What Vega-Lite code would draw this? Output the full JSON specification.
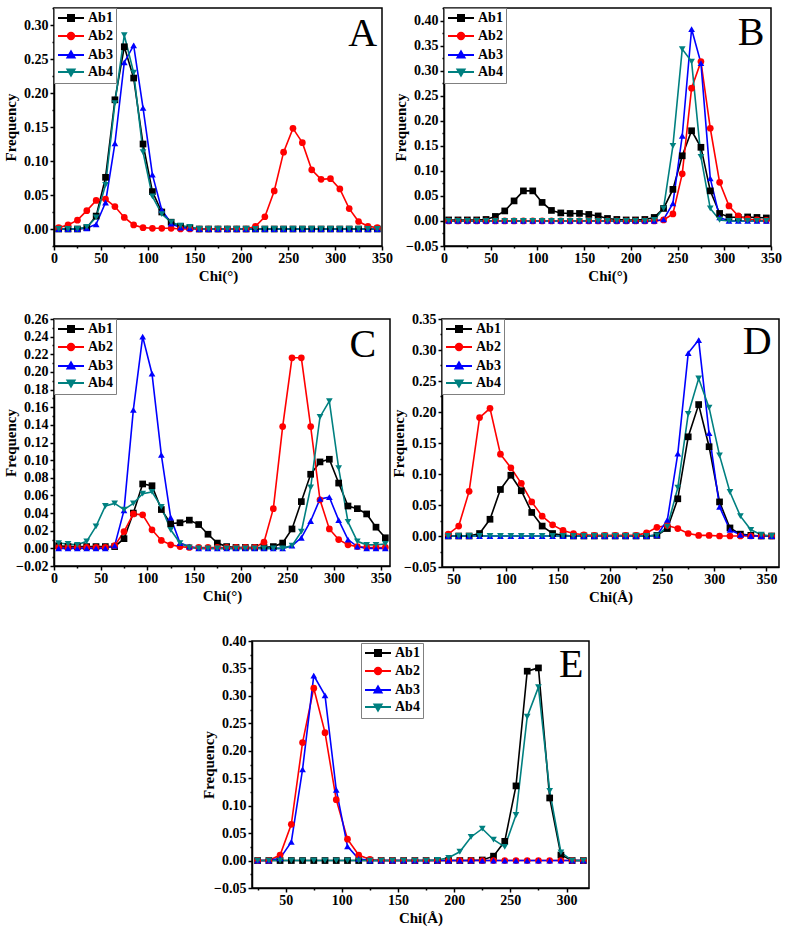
{
"$schema": "https://vega.github.io/schema/vega-lite/v6.json",
"padding": {"left": 2, "top": 0, "right": 2, "bottom": 2},
"background": "white",
"config": {
  "view": {"stroke": "black", "strokeWidth": 1.5},
  "axis": {"domainColor": "black", "domainWidth": 1.5, "tickColor": "black", "tickWidth": 1.5, "labelFont": "Liberation Serif", "labelFontWeight": "bold", "labelFontSize": 14, "labelColor": "black", "titleFont": "Liberation Serif", "titleFontWeight": "bold", "titleFontSize": 15, "titleColor": "black", "grid": false, "labelPadding": 2, "labelOverlap": false, "labelFlush": false},
  "axisY": {"titleX": -36, "titleBaseline": "bottom"},
  "axisX": {"titleY": 29, "titleBaseline": "middle", "labelPadding": 1},
  "legend": {"labelFont": "Liberation Serif", "labelFontWeight": "bold", "labelFontSize": 14, "labelColor": "black", "strokeColor": "#808080", "fillColor": "white", "padding": 3, "symbolSize": 100, "symbolOffset": 7, "labelOffset": 10, "rowPadding": 3, "cornerRadius": 0}
},
"datasets": {
  "dA": [
    {"chi":5,"Ab1":0,"Ab2":0.002,"Ab3":0,"Ab4":0},
    {"chi":15,"Ab1":0,"Ab2":0.006,"Ab3":0,"Ab4":0},
    {"chi":25,"Ab1":0,"Ab2":0.013,"Ab3":0,"Ab4":0},
    {"chi":35,"Ab1":0.002,"Ab2":0.027,"Ab3":0.001,"Ab4":0.003},
    {"chi":45,"Ab1":0.019,"Ab2":0.042,"Ab3":0.007,"Ab4":0.017},
    {"chi":55,"Ab1":0.076,"Ab2":0.044,"Ab3":0.039,"Ab4":0.065},
    {"chi":65,"Ab1":0.19,"Ab2":0.033,"Ab3":0.126,"Ab4":0.185},
    {"chi":75,"Ab1":0.268,"Ab2":0.017,"Ab3":0.245,"Ab4":0.285},
    {"chi":85,"Ab1":0.222,"Ab2":0.006,"Ab3":0.27,"Ab4":0.23},
    {"chi":95,"Ab1":0.125,"Ab2":0.002,"Ab3":0.178,"Ab4":0.113},
    {"chi":105,"Ab1":0.055,"Ab2":0.001,"Ab3":0.08,"Ab4":0.048},
    {"chi":115,"Ab1":0.025,"Ab2":0.001,"Ab3":0.028,"Ab4":0.022},
    {"chi":125,"Ab1":0.01,"Ab2":0.001,"Ab3":0.008,"Ab4":0.01},
    {"chi":135,"Ab1":0.004,"Ab2":0,"Ab3":0.002,"Ab4":0.005},
    {"chi":145,"Ab1":0.002,"Ab2":0,"Ab3":0.001,"Ab4":0.003},
    {"chi":155,"Ab1":0,"Ab2":0,"Ab3":0,"Ab4":0},
    {"chi":165,"Ab1":0,"Ab2":0,"Ab3":0,"Ab4":0},
    {"chi":175,"Ab1":0,"Ab2":0,"Ab3":0,"Ab4":0},
    {"chi":185,"Ab1":0,"Ab2":0,"Ab3":0,"Ab4":0},
    {"chi":195,"Ab1":0,"Ab2":0,"Ab3":0,"Ab4":0},
    {"chi":205,"Ab1":0,"Ab2":0,"Ab3":0,"Ab4":0},
    {"chi":215,"Ab1":0,"Ab2":0.004,"Ab3":0,"Ab4":0},
    {"chi":225,"Ab1":0,"Ab2":0.018,"Ab3":0,"Ab4":0},
    {"chi":235,"Ab1":0,"Ab2":0.056,"Ab3":0,"Ab4":0},
    {"chi":245,"Ab1":0,"Ab2":0.113,"Ab3":0,"Ab4":0},
    {"chi":255,"Ab1":0,"Ab2":0.148,"Ab3":0,"Ab4":0},
    {"chi":265,"Ab1":0,"Ab2":0.127,"Ab3":0,"Ab4":0},
    {"chi":275,"Ab1":0,"Ab2":0.087,"Ab3":0,"Ab4":0},
    {"chi":285,"Ab1":0,"Ab2":0.073,"Ab3":0,"Ab4":0},
    {"chi":295,"Ab1":0,"Ab2":0.074,"Ab3":0,"Ab4":0},
    {"chi":305,"Ab1":0,"Ab2":0.059,"Ab3":0,"Ab4":0},
    {"chi":315,"Ab1":0,"Ab2":0.03,"Ab3":0,"Ab4":0},
    {"chi":325,"Ab1":0,"Ab2":0.011,"Ab3":0,"Ab4":0},
    {"chi":335,"Ab1":0,"Ab2":0.004,"Ab3":0,"Ab4":0},
    {"chi":345,"Ab1":0,"Ab2":0.002,"Ab3":0,"Ab4":0}
  ],
  "dB": [
    {"chi":5,"Ab1":0.002,"Ab2":0,"Ab3":0,"Ab4":0},
    {"chi":15,"Ab1":0.002,"Ab2":0,"Ab3":0,"Ab4":0},
    {"chi":25,"Ab1":0.002,"Ab2":0,"Ab3":0,"Ab4":0},
    {"chi":35,"Ab1":0.002,"Ab2":0,"Ab3":0,"Ab4":0},
    {"chi":45,"Ab1":0.003,"Ab2":0,"Ab3":0,"Ab4":0},
    {"chi":55,"Ab1":0.009,"Ab2":0,"Ab3":0,"Ab4":0},
    {"chi":65,"Ab1":0.02,"Ab2":0,"Ab3":0,"Ab4":0},
    {"chi":75,"Ab1":0.04,"Ab2":0,"Ab3":0,"Ab4":0},
    {"chi":85,"Ab1":0.06,"Ab2":0,"Ab3":0,"Ab4":0},
    {"chi":95,"Ab1":0.06,"Ab2":0,"Ab3":0,"Ab4":0},
    {"chi":105,"Ab1":0.037,"Ab2":0,"Ab3":0,"Ab4":0},
    {"chi":115,"Ab1":0.021,"Ab2":0,"Ab3":0,"Ab4":0},
    {"chi":125,"Ab1":0.016,"Ab2":0,"Ab3":0,"Ab4":0},
    {"chi":135,"Ab1":0.015,"Ab2":0,"Ab3":0,"Ab4":0},
    {"chi":145,"Ab1":0.015,"Ab2":0,"Ab3":0,"Ab4":0},
    {"chi":155,"Ab1":0.013,"Ab2":0,"Ab3":0,"Ab4":0},
    {"chi":165,"Ab1":0.01,"Ab2":0,"Ab3":0,"Ab4":0},
    {"chi":175,"Ab1":0.005,"Ab2":0,"Ab3":0,"Ab4":0},
    {"chi":185,"Ab1":0.003,"Ab2":0,"Ab3":0,"Ab4":0},
    {"chi":195,"Ab1":0.002,"Ab2":0,"Ab3":0,"Ab4":0},
    {"chi":205,"Ab1":0.002,"Ab2":0,"Ab3":0,"Ab4":0},
    {"chi":215,"Ab1":0.003,"Ab2":0,"Ab3":0,"Ab4":0},
    {"chi":225,"Ab1":0.007,"Ab2":0,"Ab3":0,"Ab4":0.002},
    {"chi":235,"Ab1":0.025,"Ab2":0.002,"Ab3":0.003,"Ab4":0.025},
    {"chi":245,"Ab1":0.063,"Ab2":0.014,"Ab3":0.035,"Ab4":0.15},
    {"chi":255,"Ab1":0.13,"Ab2":0.094,"Ab3":0.17,"Ab4":0.343},
    {"chi":265,"Ab1":0.18,"Ab2":0.265,"Ab3":0.383,"Ab4":0.318},
    {"chi":275,"Ab1":0.147,"Ab2":0.318,"Ab3":0.315,"Ab4":0.128},
    {"chi":285,"Ab1":0.06,"Ab2":0.185,"Ab3":0.085,"Ab4":0.025},
    {"chi":295,"Ab1":0.015,"Ab2":0.077,"Ab3":0.007,"Ab4":0.002},
    {"chi":305,"Ab1":0.008,"Ab2":0.03,"Ab3":0,"Ab4":0},
    {"chi":315,"Ab1":0.007,"Ab2":0.01,"Ab3":0,"Ab4":0},
    {"chi":325,"Ab1":0.008,"Ab2":0.004,"Ab3":0,"Ab4":0},
    {"chi":335,"Ab1":0.007,"Ab2":0.002,"Ab3":0,"Ab4":0},
    {"chi":345,"Ab1":0.006,"Ab2":0.001,"Ab3":0,"Ab4":0}
  ],
  "dC": [
    {"chi":5,"Ab1":0.003,"Ab2":0.001,"Ab3":0,"Ab4":0.006},
    {"chi":15,"Ab1":0.002,"Ab2":0.001,"Ab3":0,"Ab4":0.005},
    {"chi":25,"Ab1":0.002,"Ab2":0.001,"Ab3":0,"Ab4":0.004},
    {"chi":35,"Ab1":0.002,"Ab2":0.001,"Ab3":0,"Ab4":0.008},
    {"chi":45,"Ab1":0.002,"Ab2":0.001,"Ab3":0,"Ab4":0.025},
    {"chi":55,"Ab1":0.002,"Ab2":0.001,"Ab3":0,"Ab4":0.048},
    {"chi":65,"Ab1":0.002,"Ab2":0.003,"Ab3":0.003,"Ab4":0.051},
    {"chi":75,"Ab1":0.011,"Ab2":0.019,"Ab3":0.043,"Ab4":0.044},
    {"chi":85,"Ab1":0.04,"Ab2":0.039,"Ab3":0.157,"Ab4":0.051},
    {"chi":95,"Ab1":0.073,"Ab2":0.038,"Ab3":0.24,"Ab4":0.062},
    {"chi":105,"Ab1":0.071,"Ab2":0.021,"Ab3":0.198,"Ab4":0.064},
    {"chi":115,"Ab1":0.044,"Ab2":0.009,"Ab3":0.106,"Ab4":0.047},
    {"chi":125,"Ab1":0.028,"Ab2":0.004,"Ab3":0.035,"Ab4":0.021},
    {"chi":135,"Ab1":0.029,"Ab2":0.002,"Ab3":0.006,"Ab4":0.006},
    {"chi":145,"Ab1":0.032,"Ab2":0.001,"Ab3":0.002,"Ab4":0.001},
    {"chi":155,"Ab1":0.027,"Ab2":0.001,"Ab3":0,"Ab4":0},
    {"chi":165,"Ab1":0.016,"Ab2":0.001,"Ab3":0,"Ab4":0},
    {"chi":175,"Ab1":0.006,"Ab2":0.001,"Ab3":0,"Ab4":0},
    {"chi":185,"Ab1":0.002,"Ab2":0.001,"Ab3":0,"Ab4":0},
    {"chi":195,"Ab1":0.001,"Ab2":0.001,"Ab3":0,"Ab4":0},
    {"chi":205,"Ab1":0.001,"Ab2":0.001,"Ab3":0,"Ab4":0},
    {"chi":215,"Ab1":0.001,"Ab2":0.001,"Ab3":0,"Ab4":0},
    {"chi":225,"Ab1":0.001,"Ab2":0.007,"Ab3":0,"Ab4":0},
    {"chi":235,"Ab1":0.002,"Ab2":0.045,"Ab3":0,"Ab4":0},
    {"chi":245,"Ab1":0.006,"Ab2":0.138,"Ab3":0,"Ab4":0},
    {"chi":255,"Ab1":0.022,"Ab2":0.216,"Ab3":0.003,"Ab4":0.003},
    {"chi":265,"Ab1":0.053,"Ab2":0.216,"Ab3":0.012,"Ab4":0.019},
    {"chi":275,"Ab1":0.084,"Ab2":0.138,"Ab3":0.031,"Ab4":0.069},
    {"chi":285,"Ab1":0.098,"Ab2":0.055,"Ab3":0.056,"Ab4":0.149},
    {"chi":295,"Ab1":0.101,"Ab2":0.022,"Ab3":0.058,"Ab4":0.167},
    {"chi":305,"Ab1":0.074,"Ab2":0.01,"Ab3":0.032,"Ab4":0.091},
    {"chi":315,"Ab1":0.048,"Ab2":0.004,"Ab3":0.01,"Ab4":0.03},
    {"chi":325,"Ab1":0.045,"Ab2":0.002,"Ab3":0.002,"Ab4":0.008},
    {"chi":335,"Ab1":0.039,"Ab2":0.001,"Ab3":0,"Ab4":0.004},
    {"chi":345,"Ab1":0.024,"Ab2":0.001,"Ab3":0,"Ab4":0.004},
    {"chi":355,"Ab1":0.012,"Ab2":0.001,"Ab3":0,"Ab4":0.005}
  ],
  "dD": [
    {"chi":45,"Ab1":0,"Ab2":0.003,"Ab3":0,"Ab4":0},
    {"chi":55,"Ab1":0,"Ab2":0.016,"Ab3":0,"Ab4":0},
    {"chi":65,"Ab1":0,"Ab2":0.072,"Ab3":0,"Ab4":0},
    {"chi":75,"Ab1":0.004,"Ab2":0.191,"Ab3":0,"Ab4":0},
    {"chi":85,"Ab1":0.027,"Ab2":0.206,"Ab3":0,"Ab4":0},
    {"chi":95,"Ab1":0.075,"Ab2":0.132,"Ab3":0,"Ab4":0},
    {"chi":105,"Ab1":0.098,"Ab2":0.11,"Ab3":0,"Ab4":0},
    {"chi":115,"Ab1":0.073,"Ab2":0.085,"Ab3":0,"Ab4":0},
    {"chi":125,"Ab1":0.038,"Ab2":0.055,"Ab3":0,"Ab4":0},
    {"chi":135,"Ab1":0.016,"Ab2":0.032,"Ab3":0,"Ab4":0},
    {"chi":145,"Ab1":0.004,"Ab2":0.018,"Ab3":0,"Ab4":0},
    {"chi":155,"Ab1":0.001,"Ab2":0.009,"Ab3":0,"Ab4":0},
    {"chi":165,"Ab1":0,"Ab2":0.004,"Ab3":0,"Ab4":0},
    {"chi":175,"Ab1":0,"Ab2":0.002,"Ab3":0,"Ab4":0},
    {"chi":185,"Ab1":0,"Ab2":0.001,"Ab3":0,"Ab4":0},
    {"chi":195,"Ab1":0,"Ab2":0.001,"Ab3":0,"Ab4":0},
    {"chi":205,"Ab1":0,"Ab2":0.001,"Ab3":0,"Ab4":0},
    {"chi":215,"Ab1":0,"Ab2":0.001,"Ab3":0,"Ab4":0},
    {"chi":225,"Ab1":0,"Ab2":0.001,"Ab3":0,"Ab4":0},
    {"chi":235,"Ab1":0,"Ab2":0.005,"Ab3":0,"Ab4":0},
    {"chi":245,"Ab1":0.001,"Ab2":0.014,"Ab3":0.001,"Ab4":0.001},
    {"chi":255,"Ab1":0.012,"Ab2":0.017,"Ab3":0.026,"Ab4":0.015},
    {"chi":265,"Ab1":0.06,"Ab2":0.012,"Ab3":0.133,"Ab4":0.078},
    {"chi":275,"Ab1":0.16,"Ab2":0.004,"Ab3":0.295,"Ab4":0.197},
    {"chi":285,"Ab1":0.212,"Ab2":0.001,"Ab3":0.316,"Ab4":0.254},
    {"chi":295,"Ab1":0.144,"Ab2":0.001,"Ab3":0.166,"Ab4":0.207},
    {"chi":305,"Ab1":0.055,"Ab2":0,"Ab3":0.047,"Ab4":0.13},
    {"chi":315,"Ab1":0.013,"Ab2":0,"Ab3":0.01,"Ab4":0.071},
    {"chi":325,"Ab1":0.003,"Ab2":0,"Ab3":0.002,"Ab4":0.032},
    {"chi":335,"Ab1":0.001,"Ab2":0,"Ab3":0,"Ab4":0.01},
    {"chi":345,"Ab1":0,"Ab2":0,"Ab3":0,"Ab4":0.002},
    {"chi":355,"Ab1":0,"Ab2":0,"Ab3":0,"Ab4":0}
  ],
  "dE": [
    {"chi":25,"Ab1":0,"Ab2":0,"Ab3":0,"Ab4":0},
    {"chi":35,"Ab1":0,"Ab2":0,"Ab3":0,"Ab4":0},
    {"chi":45,"Ab1":0,"Ab2":0.01,"Ab3":0.004,"Ab4":0},
    {"chi":55,"Ab1":0,"Ab2":0.066,"Ab3":0.034,"Ab4":0},
    {"chi":65,"Ab1":0,"Ab2":0.215,"Ab3":0.166,"Ab4":0},
    {"chi":75,"Ab1":0,"Ab2":0.314,"Ab3":0.337,"Ab4":0},
    {"chi":85,"Ab1":0,"Ab2":0.233,"Ab3":0.301,"Ab4":0},
    {"chi":95,"Ab1":0,"Ab2":0.111,"Ab3":0.129,"Ab4":0},
    {"chi":105,"Ab1":0,"Ab2":0.039,"Ab3":0.026,"Ab4":0},
    {"chi":115,"Ab1":0,"Ab2":0.01,"Ab3":0.003,"Ab4":0},
    {"chi":125,"Ab1":0,"Ab2":0.002,"Ab3":0,"Ab4":0},
    {"chi":135,"Ab1":0,"Ab2":0,"Ab3":0,"Ab4":0},
    {"chi":145,"Ab1":0,"Ab2":0,"Ab3":0,"Ab4":0},
    {"chi":155,"Ab1":0,"Ab2":0,"Ab3":0,"Ab4":0},
    {"chi":165,"Ab1":0,"Ab2":0,"Ab3":0,"Ab4":0},
    {"chi":175,"Ab1":0,"Ab2":0,"Ab3":0,"Ab4":0},
    {"chi":185,"Ab1":0,"Ab2":0,"Ab3":0,"Ab4":0.001},
    {"chi":195,"Ab1":0,"Ab2":0,"Ab3":0,"Ab4":0.005},
    {"chi":205,"Ab1":0,"Ab2":0,"Ab3":0,"Ab4":0.016},
    {"chi":215,"Ab1":0,"Ab2":0,"Ab3":0,"Ab4":0.043},
    {"chi":225,"Ab1":0.001,"Ab2":0,"Ab3":0,"Ab4":0.058},
    {"chi":235,"Ab1":0.008,"Ab2":0,"Ab3":0,"Ab4":0.038},
    {"chi":245,"Ab1":0.035,"Ab2":0,"Ab3":0,"Ab4":0.025},
    {"chi":255,"Ab1":0.136,"Ab2":0,"Ab3":0,"Ab4":0.083},
    {"chi":265,"Ab1":0.345,"Ab2":0,"Ab3":0,"Ab4":0.262},
    {"chi":275,"Ab1":0.351,"Ab2":0,"Ab3":0,"Ab4":0.316},
    {"chi":285,"Ab1":0.114,"Ab2":0,"Ab3":0,"Ab4":0.127},
    {"chi":295,"Ab1":0.01,"Ab2":0,"Ab3":0,"Ab4":0.015},
    {"chi":305,"Ab1":0,"Ab2":0,"Ab3":0,"Ab4":0},
    {"chi":315,"Ab1":0,"Ab2":0,"Ab3":0,"Ab4":0}
  ]
},
"resolve": {"scale": {"color": "independent", "shape": "independent"}, "legend": {"color": "independent", "shape": "independent"}},
"spacing": 27,
"vconcat": [
  {
    "spacing": -2,
    "resolve": {"scale": {"color": "independent", "shape": "independent"}, "legend": {"color": "independent", "shape": "independent"}},
    "hconcat": [
      {
        "width": 328, "height": 238,
        "encoding": {
          "x": {"field": "chi", "type": "quantitative", "scale": {"domain": [0, 350], "nice": false, "zero": false}, "axis": {"title": "Chi(°)", "values": [0,25,50,75,100,125,150,175,200,225,250,275,300,325,350], "labelExpr": "datum.value % 50 === 0 ? datum.label : ''", "tickSize": {"condition": {"test": "datum.value % 50 === 0", "value": 4}, "value": 2}}},
          "y": {"field": "freq", "type": "quantitative", "scale": {"domain": [-0.025, 0.325], "nice": false, "zero": false}, "axis": {"title": "Frequency", "format": ".2f", "values": [-0.025,0,0.025,0.05,0.075,0.1,0.125,0.15,0.175,0.2,0.225,0.25,0.275,0.3,0.325], "labelExpr": "abs(datum.value*20-round(datum.value*20))<0.001 ? datum.label : ''", "tickSize": {"condition": {"test": "abs(datum.value*20-round(datum.value*20))<0.001", "value": 4}, "value": 2}}}
        },
        "layer": [
          {"data": {"name": "dA"}, "transform": [{"fold": ["Ab1","Ab2","Ab3","Ab4"], "as": ["series","freq"]}],
           "mark": {"type": "line", "strokeWidth": 1.6},
           "encoding": {"color": {"field": "series", "type": "nominal", "scale": {"domain": ["Ab1","Ab2","Ab3","Ab4"], "range": ["#000000","#ff0000","#0000ff","#008080"]}}}},
          {"data": {"name": "dA"}, "transform": [{"fold": ["Ab1","Ab2","Ab3","Ab4"], "as": ["series","freq"]}],
           "mark": {"type": "point", "filled": true, "size": 45, "opacity": 1},
           "encoding": {
             "color": {"field": "series", "type": "nominal", "scale": {"domain": ["Ab1","Ab2","Ab3","Ab4"], "range": ["#000000","#ff0000","#0000ff","#008080"]},
               "legend": {"title": null, "orient": "top-left", "offset": 0,
                 "encoding": {"symbols": {
                   "shape": {"value": {"expr": "datum.value==='Ab1'?'M-2.6,0H2.6M-0.6,-0.6H0.6V0.6H-0.6Z':datum.value==='Ab2'?'M-2.6,0H2.6M0.64,0A0.64,0.64,0,1,1,-0.64,0A0.64,0.64,0,1,1,0.64,0Z':datum.value==='Ab3'?'M-2.6,0H2.6M0,-0.7L0.7,0.5L-0.7,0.5Z':'M-2.6,0H2.6M0,0.7L0.7,-0.5L-0.7,-0.5Z'"}},
                   "strokeWidth": {"value": 2}, "size": {"value": 100}, "opacity": {"value": 1}}}}},
             "shape": {"field": "series", "type": "nominal", "scale": {"domain": ["Ab1","Ab2","Ab3","Ab4","Ab5"], "range": ["square","circle","triangle-up","triangle-down","diamond"]}, "legend": null}
           }},
          {"data": {"values": [{"chi": 329.4, "freq": 0.269, "lab": "A"}]},
           "mark": {"type": "text", "font": "Liberation Serif", "fontSize": 40, "align": "center", "baseline": "alphabetic", "color": "black"},
           "encoding": {"text": {"field": "lab"}}}
        ]
      },
      {
        "width": 327, "height": 238,
        "encoding": {
          "x": {"field": "chi", "type": "quantitative", "scale": {"domain": [0, 350], "nice": false, "zero": false}, "axis": {"title": "Chi(°)", "values": [0,25,50,75,100,125,150,175,200,225,250,275,300,325,350], "labelExpr": "datum.value % 50 === 0 ? datum.label : ''", "tickSize": {"condition": {"test": "datum.value % 50 === 0", "value": 4}, "value": 2}}},
          "y": {"field": "freq", "type": "quantitative", "scale": {"domain": [-0.05, 0.425], "nice": false, "zero": false}, "axis": {"title": "Frequency", "format": ".2f", "values": [-0.05,-0.025,0,0.025,0.05,0.075,0.1,0.125,0.15,0.175,0.2,0.225,0.25,0.275,0.3,0.325,0.35,0.375,0.4,0.425], "labelExpr": "abs(datum.value*20-round(datum.value*20))<0.001 ? datum.label : ''", "tickSize": {"condition": {"test": "abs(datum.value*20-round(datum.value*20))<0.001", "value": 4}, "value": 2}}}
        },
        "layer": [
          {"data": {"name": "dB"}, "transform": [{"fold": ["Ab1","Ab2","Ab3","Ab4"], "as": ["series","freq"]}],
           "mark": {"type": "line", "strokeWidth": 1.6},
           "encoding": {"color": {"field": "series", "type": "nominal", "scale": {"domain": ["Ab1","Ab2","Ab3","Ab4"], "range": ["#000000","#ff0000","#0000ff","#008080"]}}}},
          {"data": {"name": "dB"}, "transform": [{"fold": ["Ab1","Ab2","Ab3","Ab4"], "as": ["series","freq"]}],
           "mark": {"type": "point", "filled": true, "size": 45, "opacity": 1},
           "encoding": {
             "color": {"field": "series", "type": "nominal", "scale": {"domain": ["Ab1","Ab2","Ab3","Ab4"], "range": ["#000000","#ff0000","#0000ff","#008080"]},
               "legend": {"title": null, "orient": "top-left", "offset": 0,
                 "encoding": {"symbols": {
                   "shape": {"value": {"expr": "datum.value==='Ab1'?'M-2.6,0H2.6M-0.6,-0.6H0.6V0.6H-0.6Z':datum.value==='Ab2'?'M-2.6,0H2.6M0.64,0A0.64,0.64,0,1,1,-0.64,0A0.64,0.64,0,1,1,0.64,0Z':datum.value==='Ab3'?'M-2.6,0H2.6M0,-0.7L0.7,0.5L-0.7,0.5Z':'M-2.6,0H2.6M0,0.7L0.7,-0.5L-0.7,-0.5Z'"}},
                   "strokeWidth": {"value": 2}, "size": {"value": 100}, "opacity": {"value": 1}}}}},
             "shape": {"field": "series", "type": "nominal", "scale": {"domain": ["Ab1","Ab2","Ab3","Ab4","Ab5"], "range": ["square","circle","triangle-up","triangle-down","diamond"]}, "legend": null}
           }},
          {"data": {"values": [{"chi": 328.6, "freq": 0.351, "lab": "B"}]},
           "mark": {"type": "text", "font": "Liberation Serif", "fontSize": 40, "align": "center", "baseline": "alphabetic", "color": "black"},
           "encoding": {"text": {"field": "lab"}}}
        ]
      }
    ]
  },
  {
    "spacing": 28,
    "resolve": {"scale": {"color": "independent", "shape": "independent"}, "legend": {"color": "independent", "shape": "independent"}},
    "vconcat": [
      {
        "spacing": -2,
        "resolve": {"scale": {"color": "independent", "shape": "independent"}, "legend": {"color": "independent", "shape": "independent"}},
        "hconcat": [
          {
            "width": 336, "height": 247,
            "encoding": {
              "x": {"field": "chi", "type": "quantitative", "scale": {"domain": [0, 360], "nice": false, "zero": false}, "axis": {"title": "Chi(°)", "values": [0,25,50,75,100,125,150,175,200,225,250,275,300,325,350], "labelExpr": "datum.value % 50 === 0 ? datum.label : ''", "tickSize": {"condition": {"test": "datum.value % 50 === 0", "value": 4}, "value": 2}}},
              "y": {"field": "freq", "type": "quantitative", "scale": {"domain": [-0.02, 0.26], "nice": false, "zero": false}, "axis": {"title": "Frequency", "format": ".2f", "values": [-0.02,-0.01,0,0.01,0.02,0.03,0.04,0.05,0.06,0.07,0.08,0.09,0.1,0.11,0.12,0.13,0.14,0.15,0.16,0.17,0.18,0.19,0.2,0.21,0.22,0.23,0.24,0.25,0.26], "labelExpr": "abs(datum.value*50-round(datum.value*50))<0.001 ? datum.label : ''", "tickSize": {"condition": {"test": "abs(datum.value*50-round(datum.value*50))<0.001", "value": 4}, "value": 2}}}
            },
            "layer": [
              {"data": {"name": "dC"}, "transform": [{"fold": ["Ab1","Ab2","Ab3","Ab4"], "as": ["series","freq"]}],
               "mark": {"type": "line", "strokeWidth": 1.6},
               "encoding": {"color": {"field": "series", "type": "nominal", "scale": {"domain": ["Ab1","Ab2","Ab3","Ab4"], "range": ["#000000","#ff0000","#0000ff","#008080"]}}}},
              {"data": {"name": "dC"}, "transform": [{"fold": ["Ab1","Ab2","Ab3","Ab4"], "as": ["series","freq"]}],
               "mark": {"type": "point", "filled": true, "size": 45, "opacity": 1},
               "encoding": {
                 "color": {"field": "series", "type": "nominal", "scale": {"domain": ["Ab1","Ab2","Ab3","Ab4"], "range": ["#000000","#ff0000","#0000ff","#008080"]},
                   "legend": {"title": null, "orient": "top-left", "offset": 0,
                     "encoding": {"symbols": {
                       "shape": {"value": {"expr": "datum.value==='Ab1'?'M-2.6,0H2.6M-0.6,-0.6H0.6V0.6H-0.6Z':datum.value==='Ab2'?'M-2.6,0H2.6M0.64,0A0.64,0.64,0,1,1,-0.64,0A0.64,0.64,0,1,1,0.64,0Z':datum.value==='Ab3'?'M-2.6,0H2.6M0,-0.7L0.7,0.5L-0.7,0.5Z':'M-2.6,0H2.6M0,0.7L0.7,-0.5L-0.7,-0.5Z'"}},
                       "strokeWidth": {"value": 2}, "size": {"value": 100}, "opacity": {"value": 1}}}}},
                 "shape": {"field": "series", "type": "nominal", "scale": {"domain": ["Ab1","Ab2","Ab3","Ab4","Ab5"], "range": ["square","circle","triangle-up","triangle-down","diamond"]}, "legend": null}
               }},
              {"data": {"values": [{"chi": 330.9, "freq": 0.217, "lab": "C"}]},
               "mark": {"type": "text", "font": "Liberation Serif", "fontSize": 40, "align": "center", "baseline": "alphabetic", "color": "black"},
               "encoding": {"text": {"field": "lab"}}}
            ]
          },
          {
            "width": 337, "height": 248,
            "encoding": {
              "x": {"field": "chi", "type": "quantitative", "scale": {"domain": [39, 362], "nice": false, "zero": false}, "axis": {"title": "Chi(Å)", "values": [50,75,100,125,150,175,200,225,250,275,300,325,350], "labelExpr": "datum.value % 50 === 0 ? datum.label : ''", "tickSize": {"condition": {"test": "datum.value % 50 === 0", "value": 4}, "value": 2}}},
              "y": {"field": "freq", "type": "quantitative", "scale": {"domain": [-0.05, 0.35], "nice": false, "zero": false}, "axis": {"title": "Frequency", "format": ".2f", "values": [-0.05,-0.025,0,0.025,0.05,0.075,0.1,0.125,0.15,0.175,0.2,0.225,0.25,0.275,0.3,0.325,0.35], "labelExpr": "abs(datum.value*20-round(datum.value*20))<0.001 ? datum.label : ''", "tickSize": {"condition": {"test": "abs(datum.value*20-round(datum.value*20))<0.001", "value": 4}, "value": 2}}}
            },
            "layer": [
              {"data": {"name": "dD"}, "transform": [{"fold": ["Ab1","Ab2","Ab3","Ab4"], "as": ["series","freq"]}],
               "mark": {"type": "line", "strokeWidth": 1.6},
               "encoding": {"color": {"field": "series", "type": "nominal", "scale": {"domain": ["Ab1","Ab2","Ab3","Ab4"], "range": ["#000000","#ff0000","#0000ff","#008080"]}}}},
              {"data": {"name": "dD"}, "transform": [{"fold": ["Ab1","Ab2","Ab3","Ab4"], "as": ["series","freq"]}],
               "mark": {"type": "point", "filled": true, "size": 45, "opacity": 1},
               "encoding": {
                 "color": {"field": "series", "type": "nominal", "scale": {"domain": ["Ab1","Ab2","Ab3","Ab4"], "range": ["#000000","#ff0000","#0000ff","#008080"]},
                   "legend": {"title": null, "orient": "top-left", "offset": 0,
                     "encoding": {"symbols": {
                       "shape": {"value": {"expr": "datum.value==='Ab1'?'M-2.6,0H2.6M-0.6,-0.6H0.6V0.6H-0.6Z':datum.value==='Ab2'?'M-2.6,0H2.6M0.64,0A0.64,0.64,0,1,1,-0.64,0A0.64,0.64,0,1,1,0.64,0Z':datum.value==='Ab3'?'M-2.6,0H2.6M0,-0.7L0.7,0.5L-0.7,0.5Z':'M-2.6,0H2.6M0,0.7L0.7,-0.5L-0.7,-0.5Z'"}},
                       "strokeWidth": {"value": 2}, "size": {"value": 100}, "opacity": {"value": 1}}}}},
                 "shape": {"field": "series", "type": "nominal", "scale": {"domain": ["Ab1","Ab2","Ab3","Ab4","Ab5"], "range": ["square","circle","triangle-up","triangle-down","diamond"]}, "legend": null}
               }},
              {"data": {"values": [{"chi": 341.1, "freq": 0.2935, "lab": "D"}]},
               "mark": {"type": "text", "font": "Liberation Serif", "fontSize": 40, "align": "center", "baseline": "alphabetic", "color": "black"},
               "encoding": {"text": {"field": "lab"}}}
            ]
          }
        ]
      },
      {
        "spacing": -4,
        "resolve": {"scale": {"color": "independent", "shape": "independent"}, "legend": {"color": "independent", "shape": "independent"}},
        "hconcat": [
          {"width": 150, "height": 10, "view": {"stroke": null}, "data": {"values": [{"k": 1}]}, "mark": {"type": "point", "opacity": 0}},
          {
            "width": 337, "height": 247,
            "encoding": {
              "x": {"field": "chi", "type": "quantitative", "scale": {"domain": [20, 320], "nice": false, "zero": false}, "axis": {"title": "Chi(Å)", "values": [25,50,75,100,125,150,175,200,225,250,275,300], "labelExpr": "datum.value % 50 === 0 ? datum.label : ''", "tickSize": {"condition": {"test": "datum.value % 50 === 0", "value": 4}, "value": 2}}},
              "y": {"field": "freq", "type": "quantitative", "scale": {"domain": [-0.05, 0.4], "nice": false, "zero": false}, "axis": {"title": "Frequency", "format": ".2f", "values": [-0.05,-0.025,0,0.025,0.05,0.075,0.1,0.125,0.15,0.175,0.2,0.225,0.25,0.275,0.3,0.325,0.35,0.375,0.4], "labelExpr": "abs(datum.value*20-round(datum.value*20))<0.001 ? datum.label : ''", "tickSize": {"condition": {"test": "abs(datum.value*20-round(datum.value*20))<0.001", "value": 4}, "value": 2}}}
            },
            "layer": [
              {"data": {"name": "dE"}, "transform": [{"fold": ["Ab1","Ab2","Ab3","Ab4"], "as": ["series","freq"]}],
               "mark": {"type": "line", "strokeWidth": 1.6},
               "encoding": {"color": {"field": "series", "type": "nominal", "scale": {"domain": ["Ab1","Ab2","Ab3","Ab4"], "range": ["#000000","#ff0000","#0000ff","#008080"]}}}},
              {"data": {"name": "dE"}, "transform": [{"fold": ["Ab1","Ab2","Ab3","Ab4"], "as": ["series","freq"]}],
               "mark": {"type": "point", "filled": true, "size": 45, "opacity": 1},
               "encoding": {
                 "color": {"field": "series", "type": "nominal", "scale": {"domain": ["Ab1","Ab2","Ab3","Ab4"], "range": ["#000000","#ff0000","#0000ff","#008080"]},
                   "legend": {"title": null, "orient": "none", "legendX": 109, "legendY": 2,
                     "encoding": {"symbols": {
                       "shape": {"value": {"expr": "datum.value==='Ab1'?'M-2.6,0H2.6M-0.6,-0.6H0.6V0.6H-0.6Z':datum.value==='Ab2'?'M-2.6,0H2.6M0.64,0A0.64,0.64,0,1,1,-0.64,0A0.64,0.64,0,1,1,0.64,0Z':datum.value==='Ab3'?'M-2.6,0H2.6M0,-0.7L0.7,0.5L-0.7,0.5Z':'M-2.6,0H2.6M0,0.7L0.7,-0.5L-0.7,-0.5Z'"}},
                       "strokeWidth": {"value": 2}, "size": {"value": 100}, "opacity": {"value": 1}}}}},
                 "shape": {"field": "series", "type": "nominal", "scale": {"domain": ["Ab1","Ab2","Ab3","Ab4","Ab5"], "range": ["square","circle","triangle-up","triangle-down","diamond"]}, "legend": null}
               }},
              {"data": {"values": [{"chi": 304.1, "freq": 0.334, "lab": "E"}]},
               "mark": {"type": "text", "font": "Liberation Serif", "fontSize": 40, "align": "center", "baseline": "alphabetic", "color": "black"},
               "encoding": {"text": {"field": "lab"}}}
            ]
          }
        ]
      }
    ]
  }
]
}
